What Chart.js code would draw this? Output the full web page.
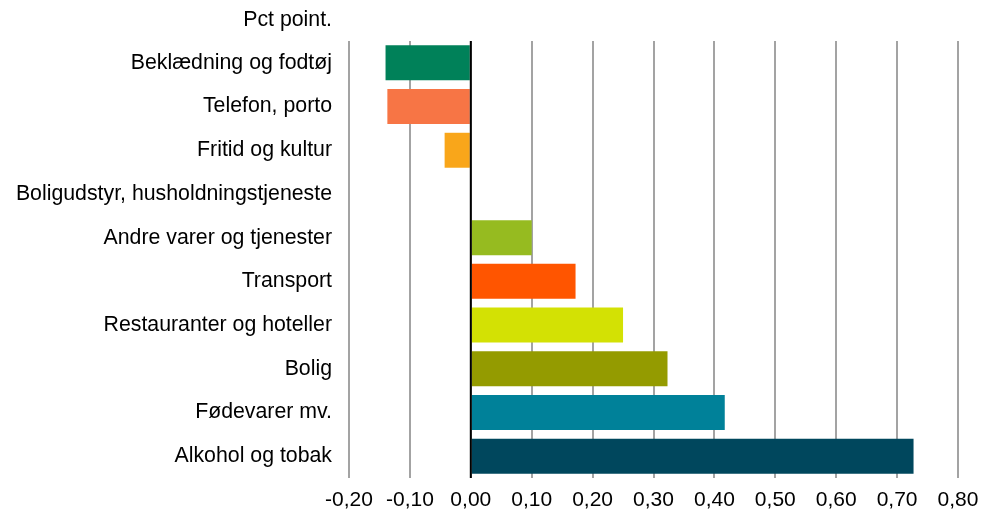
<!DOCTYPE html>
<html>
<head>
<meta charset="utf-8">
<script src="https://cdn.jsdelivr.net/npm/chart.js@4/dist/chart.umd.min.js"></script>
<style>
  html, body { margin: 0; padding: 0; background: #fff; }
  #wrap { width: 994px; height: 510px; }
</style>
</head>
<body>
<div id="wrap"><canvas id="myChart"></canvas></div>
<script>
// categories, top to bottom
const categories = [
    'Beklædning og fodtøj',
    'Telefon, porto',
    'Fritid og kultur',
    'Boligudstyr, husholdningstjeneste',
    'Andre varer og tjenester',
    'Transport',
    'Restauranter og hoteller',
    'Bolig',
    'Fødevarer mv.',
    'Alkohol og tobak'
];
// contribution in pct point
const contributions = [-0.14, -0.137, -0.043, 0, 0.10, 0.172, 0.25, 0.323, 0.417, 0.727];
const barColors = ['#008159', '#F77545', '#F9A61A', '#999999', '#96BB20', '#FF5500', '#D3E104', '#949B00', '#008199', '#00475D'];
const unitLabel = 'Pct point.';
const xMin = -0.2;
const xMax = 0.8;
const xStep = 0.1;

const fontFamily = '"Liberation Sans", Arial, sans-serif';

// zero line on top of bars + unit label above the category labels
const extras = {
    id: 'extras',
    afterDatasetsDraw(chart) {
        const ctx = chart.ctx;
        const x = chart.scales.x.getPixelForValue(0);
        ctx.save();
        ctx.strokeStyle = '#000000';
        ctx.lineWidth = 2;
        ctx.beginPath();
        ctx.moveTo(x, chart.chartArea.top);
        ctx.lineTo(x, chart.chartArea.bottom);
        ctx.stroke();
        ctx.fillStyle = '#000000';
        ctx.font = '21.3px ' + fontFamily;
        ctx.textAlign = 'right';
        ctx.textBaseline = 'middle';
        ctx.fillText(unitLabel, chart.scales.y.right - 17, 20);
        ctx.restore();
    }
};

let canvasElement = document.getElementById('myChart');
let ctx = canvasElement.getContext('2d');
new Chart(ctx, {
    type: 'bar',
    data: {
        labels: categories,
        datasets: [{
            label: unitLabel,
            data: contributions,
            backgroundColor: barColors,
            borderWidth: 0,
            barPercentage: 0.8,
            categoryPercentage: 1.0
        }]
    },
    options: {
        indexAxis: 'y',
        responsive: true,
        maintainAspectRatio: false,
        animation: false,
        layout: {
            padding: { top: 41, right: 36, bottom: 0, left: 0 }
        },
        plugins: {
            legend: { display: false },
            tooltip: { enabled: false }
        },
        scales: {
            x: {
                min: xMin,
                max: xMax,
                ticks: {
                    stepSize: xStep,
                    padding: 10,
                    color: '#000000',
                    font: { family: fontFamily, size: 21 },
                    callback: (value) => value.toFixed(2).replace('.', ',')
                },
                grid: {
                    color: '#a3a3a3',
                    lineWidth: 2,
                    drawTicks: false
                },
                border: { display: false },
                afterFit: (scale) => { scale.height = 32; }
            },
            y: {
                ticks: {
                    padding: 17,
                    color: '#000000',
                    font: { family: fontFamily, size: 21.3 }
                },
                grid: { display: false, drawTicks: false },
                border: { display: false },
                afterFit: (scale) => { scale.width = 349; }
            }
        }
    },
    plugins: [extras]
});
</script>
</body>
</html>
